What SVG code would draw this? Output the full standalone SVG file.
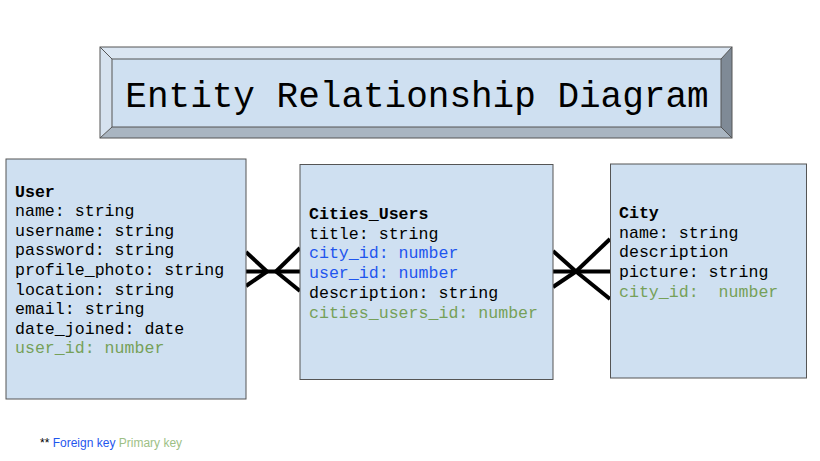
<svg xmlns="http://www.w3.org/2000/svg" width="820" height="461" viewBox="0 0 820 461">
<style>
.box{fill:#cfe0f1;stroke:#555;stroke-width:1}
.t{font-family:"Liberation Mono","Courier New",monospace;font-size:16.6px;fill:#000;white-space:pre}
.b{font-weight:bold}
.fk{fill:#1f56ee}
.pk{fill:#76a059}
.conn line{stroke:#000;stroke-width:4;stroke-linecap:butt}
.lg{font-family:"Liberation Sans",Arial,sans-serif;font-size:12px}
</style>
<rect width="820" height="461" fill="#fff"/>
<g id="title">
<polygon points="100,47 732,47 721,59 112,59" fill="#dbe6f2"/>
<polygon points="100,47 112,59 112,127 100,138" fill="#d6e2ef"/>
<polygon points="732,47 732,138 721,127 721,59" fill="#7f8a96"/>
<polygon points="100,138 112,127 721,127 732,138" fill="#a9b5c1"/>
<rect x="112" y="59" width="609" height="68" fill="#cfe0f1" stroke="#555" stroke-width="1"/>
<rect x="100" y="47" width="632" height="91" fill="none" stroke="#555" stroke-width="1"/>
<line x1="100" y1="47" x2="112" y2="59" stroke="#555"/>
<line x1="732" y1="47" x2="721" y2="59" stroke="#555"/>
<line x1="100" y1="138" x2="112" y2="127" stroke="#555"/>
<line x1="732" y1="138" x2="721" y2="127" stroke="#555"/>
<text x="417" y="107" text-anchor="middle" font-family="'Liberation Mono','Courier New',monospace" font-size="36">Entity Relationship Diagram</text>
</g>
<g class="conn" id="connectors">
<line x1="246" y1="271.5" x2="300" y2="271.5"/>
<line x1="246" y1="252" x2="267" y2="271.5"/>
<line x1="246" y1="286" x2="267" y2="271.5"/>
<line x1="300" y1="248" x2="276" y2="271.5"/>
<line x1="300" y1="291" x2="276" y2="271.5"/>
<line x1="553" y1="271.5" x2="610" y2="271.5"/>
<line x1="553" y1="251" x2="576" y2="271.5"/>
<line x1="553" y1="287" x2="576" y2="271.5"/>
<line x1="610" y1="239" x2="576" y2="271.5"/>
<line x1="610" y1="299" x2="576" y2="271.5"/>
</g>
<g id="user">
<rect class="box" x="6" y="159" width="240" height="240"/>
<text class="t b" x="15" y="196.5">User</text>
<text class="t" x="15" y="216.1">name: string</text>
<text class="t" x="15" y="235.7">username: string</text>
<text class="t" x="15" y="255.3">password: string</text>
<text class="t" x="15" y="274.9">profile_photo: string</text>
<text class="t" x="15" y="294.5">location: string</text>
<text class="t" x="15" y="314.1">email: string</text>
<text class="t" x="15" y="333.7">date_joined: date</text>
<text class="t pk" x="15" y="353.3">user_id: number</text>
</g>
<g id="cities_users">
<rect class="box" x="300" y="164.5" width="253" height="215"/>
<text class="t b" x="309" y="218.5">Cities_Users</text>
<text class="t" x="309" y="238.5">title: string</text>
<text class="t fk" x="309" y="258">city_id: number</text>
<text class="t fk" x="309" y="277.5">user_id: number</text>
<text class="t" x="309" y="297.5">description: string</text>
<text class="t pk" x="309" y="317.5">cities_users_id: number</text>
</g>
<g id="city">
<rect class="box" x="610.5" y="164" width="196" height="214"/>
<text class="t b" x="619" y="217.5">City</text>
<text class="t" x="619" y="237.5">name: string</text>
<text class="t" x="619" y="257">description</text>
<text class="t" x="619" y="276.5">picture: string</text>
<text class="t pk" x="619" y="296.5" xml:space="preserve">city_id:  number</text>
</g>
<g id="legend">
<text class="lg" x="40" y="447" xml:space="preserve"><tspan fill="#000">** </tspan><tspan fill="#1f56ee">Foreign key</tspan><tspan fill="#9dbf85"> Primary key</tspan></text>
</g>
</svg>
